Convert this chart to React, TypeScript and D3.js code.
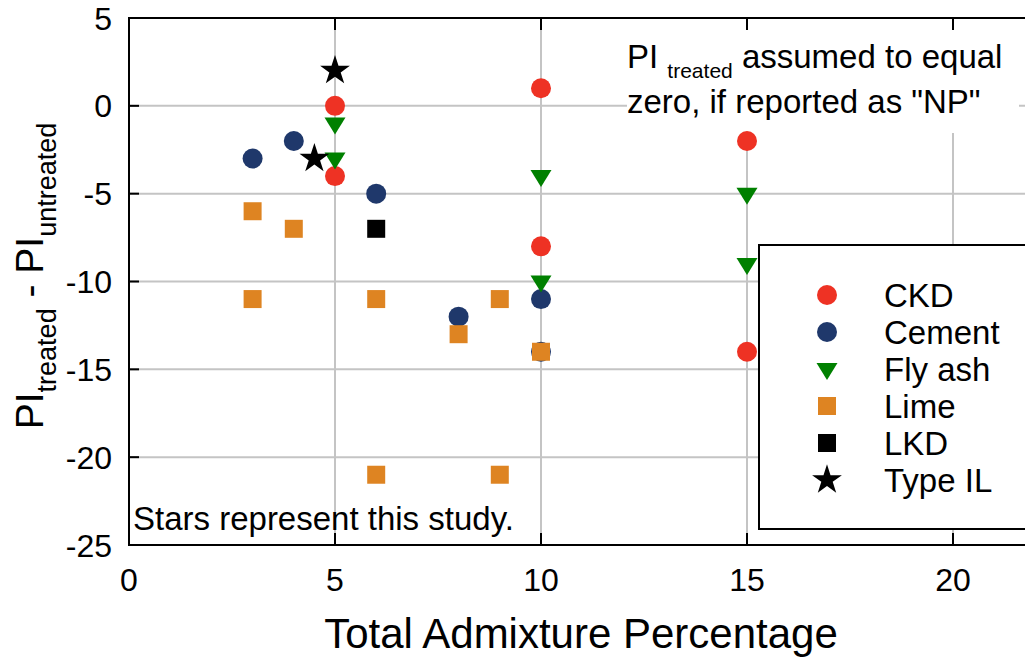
import React from "react";
import * as d3 from "d3";

const xTicks = [0, 5, 10, 15, 20];
const yTicks = [5, 0, -5, -10, -15, -20, -25];

const ckdX = [5, 5, 10, 10, 15, 15];
const ckdY = [0, -4, 1, -8, -2, -14];
const cementX = [3, 4, 6, 8, 10, 10];
const cementY = [-3, -2, -5, -12, -11, -14];
const flyAshX = [5, 5, 10, 10, 15, 15];
const flyAshY = [-1, -3, -4, -10, -5, -9];
const limeX = [3, 4, 3, 6, 6, 8, 9, 9, 10];
const limeY = [-6, -7, -11, -11, -21, -13, -11, -21, -14];
const lkdX = [6];
const lkdY = [-7];
const typeILX = [5, 4.5];
const typeILY = [2, -3];

const seriesNames = ["CKD", "Cement", "Fly ash", "Lime", "LKD", "Type IL"];
const seriesColors = ["#EE3224", "#1F386B", "#008000", "#DE8422", "#000000", "#000000"];
const seriesShapes = ["circle", "circle", "triangleDown", "square", "square", "star"];

const FONT = "Arial, 'Liberation Sans', sans-serif";

const W = 1025;
const H = 657;
const left = 129;
const top = 18;
const bottom = 545;

const x = d3.scaleLinear().domain([0, 22]).range([left, left + 22 * 41.2]);
const y = d3.scaleLinear().domain([-25, 5]).range([bottom, top]);

function markerPath(shape: string): string {
  if (shape === "circle") return d3.symbol(d3.symbolCircle, Math.PI * 100)() as string;
  if (shape === "square") return d3.symbol(d3.symbolSquare, 18 * 18)() as string;
  if (shape === "star") return d3.symbol(d3.symbolStar, 275)() as string;
  return "M-10.5,-6L10.5,-6L0,11Z";
}

function Marker({ shape, color, cx, cy }: { shape: string; color: string; cx: number; cy: number }) {
  return <path d={markerPath(shape)} transform={`translate(${cx},${cy})`} fill={color} />;
}

export default function App() {
  const seriesData = [
    [ckdX, ckdY],
    [cementX, cementY],
    [flyAshX, flyAshY],
    [limeX, limeY],
    [lkdX, lkdY],
    [typeILX, typeILY],
  ];
  const right = x(22);
  return (
    <svg
      width={W}
      height={H}
      style={{ position: "absolute", left: 0, top: 0, background: "#fff" }}
      fontFamily={FONT}
    >
      <rect x={0} y={0} width={W} height={H} fill="#fff" />
      {/* gridlines */}
      {xTicks.filter((t) => t > 0).map((t) => (
        <line key={"gx" + t} x1={x(t)} x2={x(t)} y1={top} y2={bottom} stroke="#C4C4C4" strokeWidth={2} />
      ))}
      {yTicks.filter((t) => t < 5 && t > -25).map((t) => (
        <line key={"gy" + t} x1={left} x2={right} y1={y(t)} y2={y(t)} stroke="#C4C4C4" strokeWidth={2} />
      ))}
      {/* annotation background */}
      <rect x={627} y={30} width={392} height={103} fill="#fff" />
      {/* axes frame */}
      <line x1={left} x2={left} y1={top} y2={bottom} stroke="#000" strokeWidth={2} />
      <line x1={left - 1} x2={right} y1={bottom} y2={bottom} stroke="#000" strokeWidth={2} />
      <line x1={left - 1} x2={right} y1={top} y2={top} stroke="#000" strokeWidth={2} />
      {/* ticks */}
      {yTicks.map((t) => (
        <g key={"yt" + t}>
          <line x1={left} x2={left + 10} y1={y(t)} y2={y(t)} stroke="#000" strokeWidth={2} />
          <text x={112} y={y(t)} dy="0.36em" textAnchor="end" fontSize={32}>
            {t}
          </text>
        </g>
      ))}
      {xTicks.map((t) => (
        <g key={"xt" + t}>
          <line x1={x(t)} x2={x(t)} y1={bottom} y2={bottom - 12} stroke="#000" strokeWidth={2} />
          <line x1={x(t)} x2={x(t)} y1={top} y2={top + 12} stroke="#000" strokeWidth={2} />
          <text x={x(t)} y={591} textAnchor="middle" fontSize={32}>
            {t}
          </text>
        </g>
      ))}
      {/* data */}
      {seriesData.map(([xs, ys], si) =>
        xs.map((xv, i) => (
          <Marker
            key={`m${si}-${i}`}
            shape={seriesShapes[si]}
            color={seriesColors[si]}
            cx={x(xv)}
            cy={y(ys[i])}
          />
        ))
      )}
      {/* annotation */}
      <text x={627} y={68} fontSize={33}>
        PI <tspan fontSize={21} dy={10}>treated</tspan>
        <tspan dy={-10}> assumed to equal</tspan>
      </text>
      <text x={627} y={113} fontSize={33}>
        zero, if reported as "NP"
      </text>
      <text x={133} y={530} fontSize={33}>
        Stars represent this study.
      </text>
      {/* legend */}
      <rect x={759} y={245} width={300} height={284} fill="#fff" stroke="#000" strokeWidth={2} />
      {seriesNames.map((n, i) => (
        <g key={"lg" + n}>
          <Marker shape={seriesShapes[i]} color={seriesColors[i]} cx={827} cy={295 + i * 37} />
          <text x={884} y={295 + i * 37} dy="0.36em" fontSize={33}>
            {n}
          </text>
        </g>
      ))}
      {/* axis titles */}
      <text x={581} y={648} textAnchor="middle" fontSize={42}>
        Total Admixture Percentage
      </text>
      <text transform="translate(43,276) rotate(-90)" textAnchor="middle" fontSize={39}>
        PI<tspan fontSize={27} dy={13}>treated</tspan>
        <tspan dy={-13}> - PI</tspan>
        <tspan fontSize={27} dy={13}>untreated</tspan>
      </text>
    </svg>
  );
}
